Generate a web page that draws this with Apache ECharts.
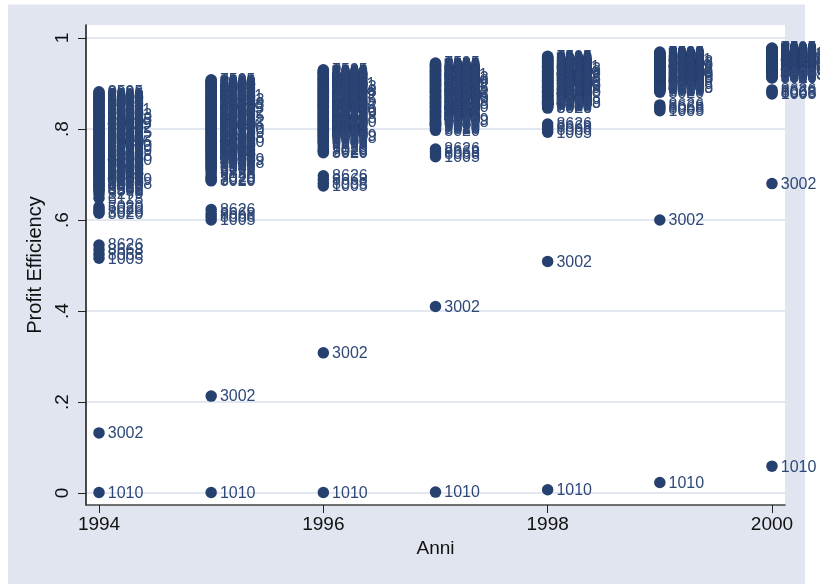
<!DOCTYPE html>
<html><head><meta charset="utf-8">
<style>html,body{margin:0;padding:0;background:#fff}#c{width:820px;height:584px}</style>
<script src="https://cdn.jsdelivr.net/npm/echarts@6/dist/echarts.min.js"></script>
</head><body><div id="c"></div>
<script>
const years = [1994,1995,1996,1997,1998,1999,2000];
const xTicks = [1994,1996,1998,2000];
const yTicks = [0,0.2,0.4,0.6,0.8,1];

const firmIds = [1010,3002,8626,8668,8068,1005,5020,7020,8026,3020,
 8595,7595,7006,7505,6028,8013,7212,8273,10011,6033,12023,5048,10078,4019,11029,7552,10042,5063,12035,6018,
 10022,8045,11056,7031,10060,5279,12019,6072,13058,4028,10070,8359,9041,7063,5092,6054,8279,4533,13069,10038,4478,8542,5279,6128];

const eff1994 = [.001,.132,.545,.535,.525,.516,.629,.624,.619,.615,
 .882,.876,.871,.866,.861,.855,.850,.846,.843,.838,.832,.828,.823,.817,.812,.808,.803,.797,.792,.788,
 .783,.778,.772,.767,.763,.757,.752,.747,.742,.737,.733,.727,.722,.716,.711,.706,.700,.695,.688,.681,.674,.666,.657,.648];
const eff1995 = [.001,.213,.623,.614,.607,.600,.696,.692,.689,.686,
 .904,.908,.900,.895,.891,.886,.882,.877,.873,.869,.864,.860,.855,.851,.846,.842,.837,.833,.828,.824,
 .819,.815,.810,.805,.801,.796,.792,.787,.782,.778,.773,.768,.763,.759,.754,.749,.744,.739,.733,.727,.721,.716,.710,.704];
const eff1996 = [.001,.308,.697,.689,.681,.675,.757,.754,.751,.748,
 .926,.930,.923,.919,.915,.911,.908,.904,.900,.897,.893,.889,.885,.882,.878,.874,.871,.867,.863,.859,
 .855,.852,.848,.844,.840,.836,.833,.829,.825,.821,.817,.813,.809,.805,.801,.797,.793,.789,.785,.781,.776,.772,.767,.762];
const eff1997 = [.002,.410,.756,.750,.745,.739,.806,.803,.800,.797,
 .942,.945,.939,.936,.932,.929,.926,.923,.920,.917,.913,.910,.907,.904,.901,.898,.895,.891,.888,.885,
 .882,.879,.875,.872,.869,.866,.862,.859,.856,.852,.849,.846,.842,.839,.835,.832,.828,.825,.821,.817,.813,.811,.809,.808];
const eff1998 = [.007,.509,.811,.805,.799,.793,.853,.851,.848,.846,
 .958,.960,.953,.951,.948,.945,.943,.940,.938,.935,.932,.930,.927,.925,.922,.919,.917,.914,.912,.909,
 .906,.904,.901,.899,.896,.893,.891,.888,.885,.883,.880,.877,.874,.872,.869,.866,.864,.861,.858,.857,.856,.855,.854,.855];
const eff1999 = [.023,.600,.853,.849,.845,.840,.888,.886,.884,.881,
 .966,.969,.964,.962,.960,.958,.956,.954,.952,.950,.948,.946,.944,.942,.940,.938,.936,.934,.932,.930,
 .928,.926,.924,.922,.920,.918,.916,.914,.912,.910,.908,.906,.904,.902,.900,.898,.896,.894,.892,.891,.890,.890,.889,.889];
const eff2000 = [.059,.680,.886,.883,.880,.877,.916,.915,.913,.912,
 .976,.978,.975,.973,.972,.970,.969,.967,.966,.964,.963,.961,.960,.958,.957,.955,.954,.952,.951,.949,
 .948,.946,.945,.943,.942,.940,.939,.937,.936,.934,.933,.931,.930,.928,.927,.925,.924,.922,.921,.920,.919,.919,.918,.918];
const effByYear = [eff1994,eff1995,eff1996,eff1997,eff1998,eff1999,eff2000];

const moreFirmIds = [8086,6808,8060,6088,8806,6068,8608,8068,6860,8880,6006,8688,8606,6080,8008,6680,8886,6608,8066,6886,8660,6688,8868,6066,8816,6818,8080,6866,8600,6060,8686,6880,8860,6638,8868,6808,8206,6228,8020,6820,8268,6008];
const more1994 = [.879,.873,.868,.863,.858,.853,.848,.841,.835,.830,.825,.820,.815,.810,.805,.800,.795,.790,.785,.780,.775,.770,.765,.760,.755,.750,.745,.740,.735,.730,.725,.719,.714,.709,.704,.698,.692,.686,.680,.675,.670,.664];
const more1995 = [.906,.902,.897,.893,.888,.884,.879,.875,.871,.866,.862,.857,.853,.848,.844,.839,.835,.830,.826,.821,.817,.812,.807,.803,.798,.794,.789,.784,.780,.775,.770,.765,.761,.756,.752,.747,.741,.736,.730,.725,.719,.713];
const more1996 = [.928,.924,.921,.917,.913,.909,.906,.902,.898,.895,.891,.887,.883,.880,.876,.872,.869,.865,.861,.857,.853,.850,.846,.842,.838,.834,.831,.827,.823,.819,.815,.811,.807,.803,.799,.795,.791,.787,.783,.778,.774,.770];
const more1997 = [.943,.940,.937,.934,.930,.927,.924,.921,.918,.915,.911,.908,.905,.902,.899,.896,.893,.889,.886,.883,.880,.877,.873,.870,.867,.864,.860,.857,.854,.850,.847,.844,.840,.837,.834,.830,.827,.823,.819,.815,.812,.810];
const more1998 = [.957,.955,.952,.950,.947,.944,.941,.939,.936,.933,.931,.928,.926,.923,.920,.918,.915,.913,.910,.907,.905,.902,.900,.897,.894,.892,.889,.886,.884,.881,.878,.875,.873,.870,.868,.865,.863,.860,.858,.857,.856,.855];
const more1999 = [.967,.965,.963,.961,.959,.957,.955,.953,.951,.949,.947,.945,.943,.941,.939,.937,.935,.933,.931,.929,.927,.925,.923,.921,.919,.917,.915,.913,.911,.909,.907,.905,.903,.901,.899,.897,.895,.893,.892,.891,.890,.889];
const more2000 = [.977,.975,.974,.972,.971,.969,.968,.966,.965,.963,.962,.960,.959,.957,.956,.954,.953,.951,.950,.948,.947,.945,.944,.942,.941,.939,.938,.936,.935,.933,.932,.930,.929,.927,.926,.924,.923,.922,.921,.920,.919,.918];
const moreByYear = [more1994,more1995,more1996,more1997,more1998,more1999,more2000];

const navy = '#26406f', band = '#e1e5f0', grid = '#e3e7f2', font = '"Liberation Sans", Arial, sans-serif';
const firstDense = 12, lastDense = 49;
const denseLabel = {textBorderColor:navy,textBorderWidth:0.9};

const points = [];
years.forEach((y,i)=>{
  effByYear[i].forEach((v,j)=>{
    const dense = j>=firstDense && j<=lastDense && firmIds[j]<10000;
    const item = {value:[y,v,firmIds[j]]};
    if(dense) item.label = denseLabel;
    points.push(item);
  });
  moreByYear[i].forEach((v,j)=>{
    const item = {value:[y,v,moreFirmIds[j]]};
    if(j>=1 && j<=38) item.label = denseLabel;
    points.push(item);
  });
});

const chart = echarts.init(document.getElementById('c'), null, {renderer:'canvas'});
chart.setOption({
  animation:false,
  backgroundColor:'#fff',
  textStyle:{fontFamily:font},
  graphic:[{type:'rect',z:-10,silent:true,shape:{x:8,y:4.5,width:797,height:580},style:{fill:band}}],
  grid:{left:86,right:35,top:25,bottom:79,show:true,backgroundColor:'#fff',borderWidth:0,containLabel:false},
  xAxis:{type:'value',min:1993.884,max:2000.116,name:'Anni',nameLocation:'middle',nameGap:34,
    nameTextStyle:{fontSize:19,color:'#111',fontFamily:font},
    axisLine:{onZero:false,lineStyle:{color:'#444',width:1.5}},
    axisTick:{show:true,length:8,customValues:xTicks,lineStyle:{color:'#222',width:1}},
    axisLabel:{customValues:xTicks,fontSize:19,color:'#111',margin:10,fontFamily:font,formatter:v=>String(v)},
    splitLine:{show:false}},
  yAxis:{type:'value',min:-0.0264,max:1.0286,name:'Profit Efficiency',nameLocation:'middle',nameGap:37,
    nameTextStyle:{fontSize:20,color:'#111',fontFamily:font},
    axisLine:{onZero:false,lineStyle:{color:'#111',width:1.5}},
    axisTick:{show:true,length:8,customValues:yTicks,lineStyle:{color:'#222',width:1}},
    axisLabel:{customValues:yTicks,rotate:90,fontSize:19,color:'#111',margin:14,fontFamily:font,
      formatter:v=>String(v).replace(/^0\./,'.')},
    splitLine:{show:true,lineStyle:{color:grid,width:2}}},
  series:[{type:'scatter',data:points,clip:false,symbol:'circle',symbolSize:11.5,
    encode:{x:0,y:1},
    itemStyle:{color:navy,opacity:1},
    label:{show:true,position:'right',distance:3,offset:[0,1],fontSize:16,color:'#2e4878',fontFamily:font,
      formatter:p=>String(p.value[2])},
    emphasis:{disabled:true}}]
});
</script></body></html>
